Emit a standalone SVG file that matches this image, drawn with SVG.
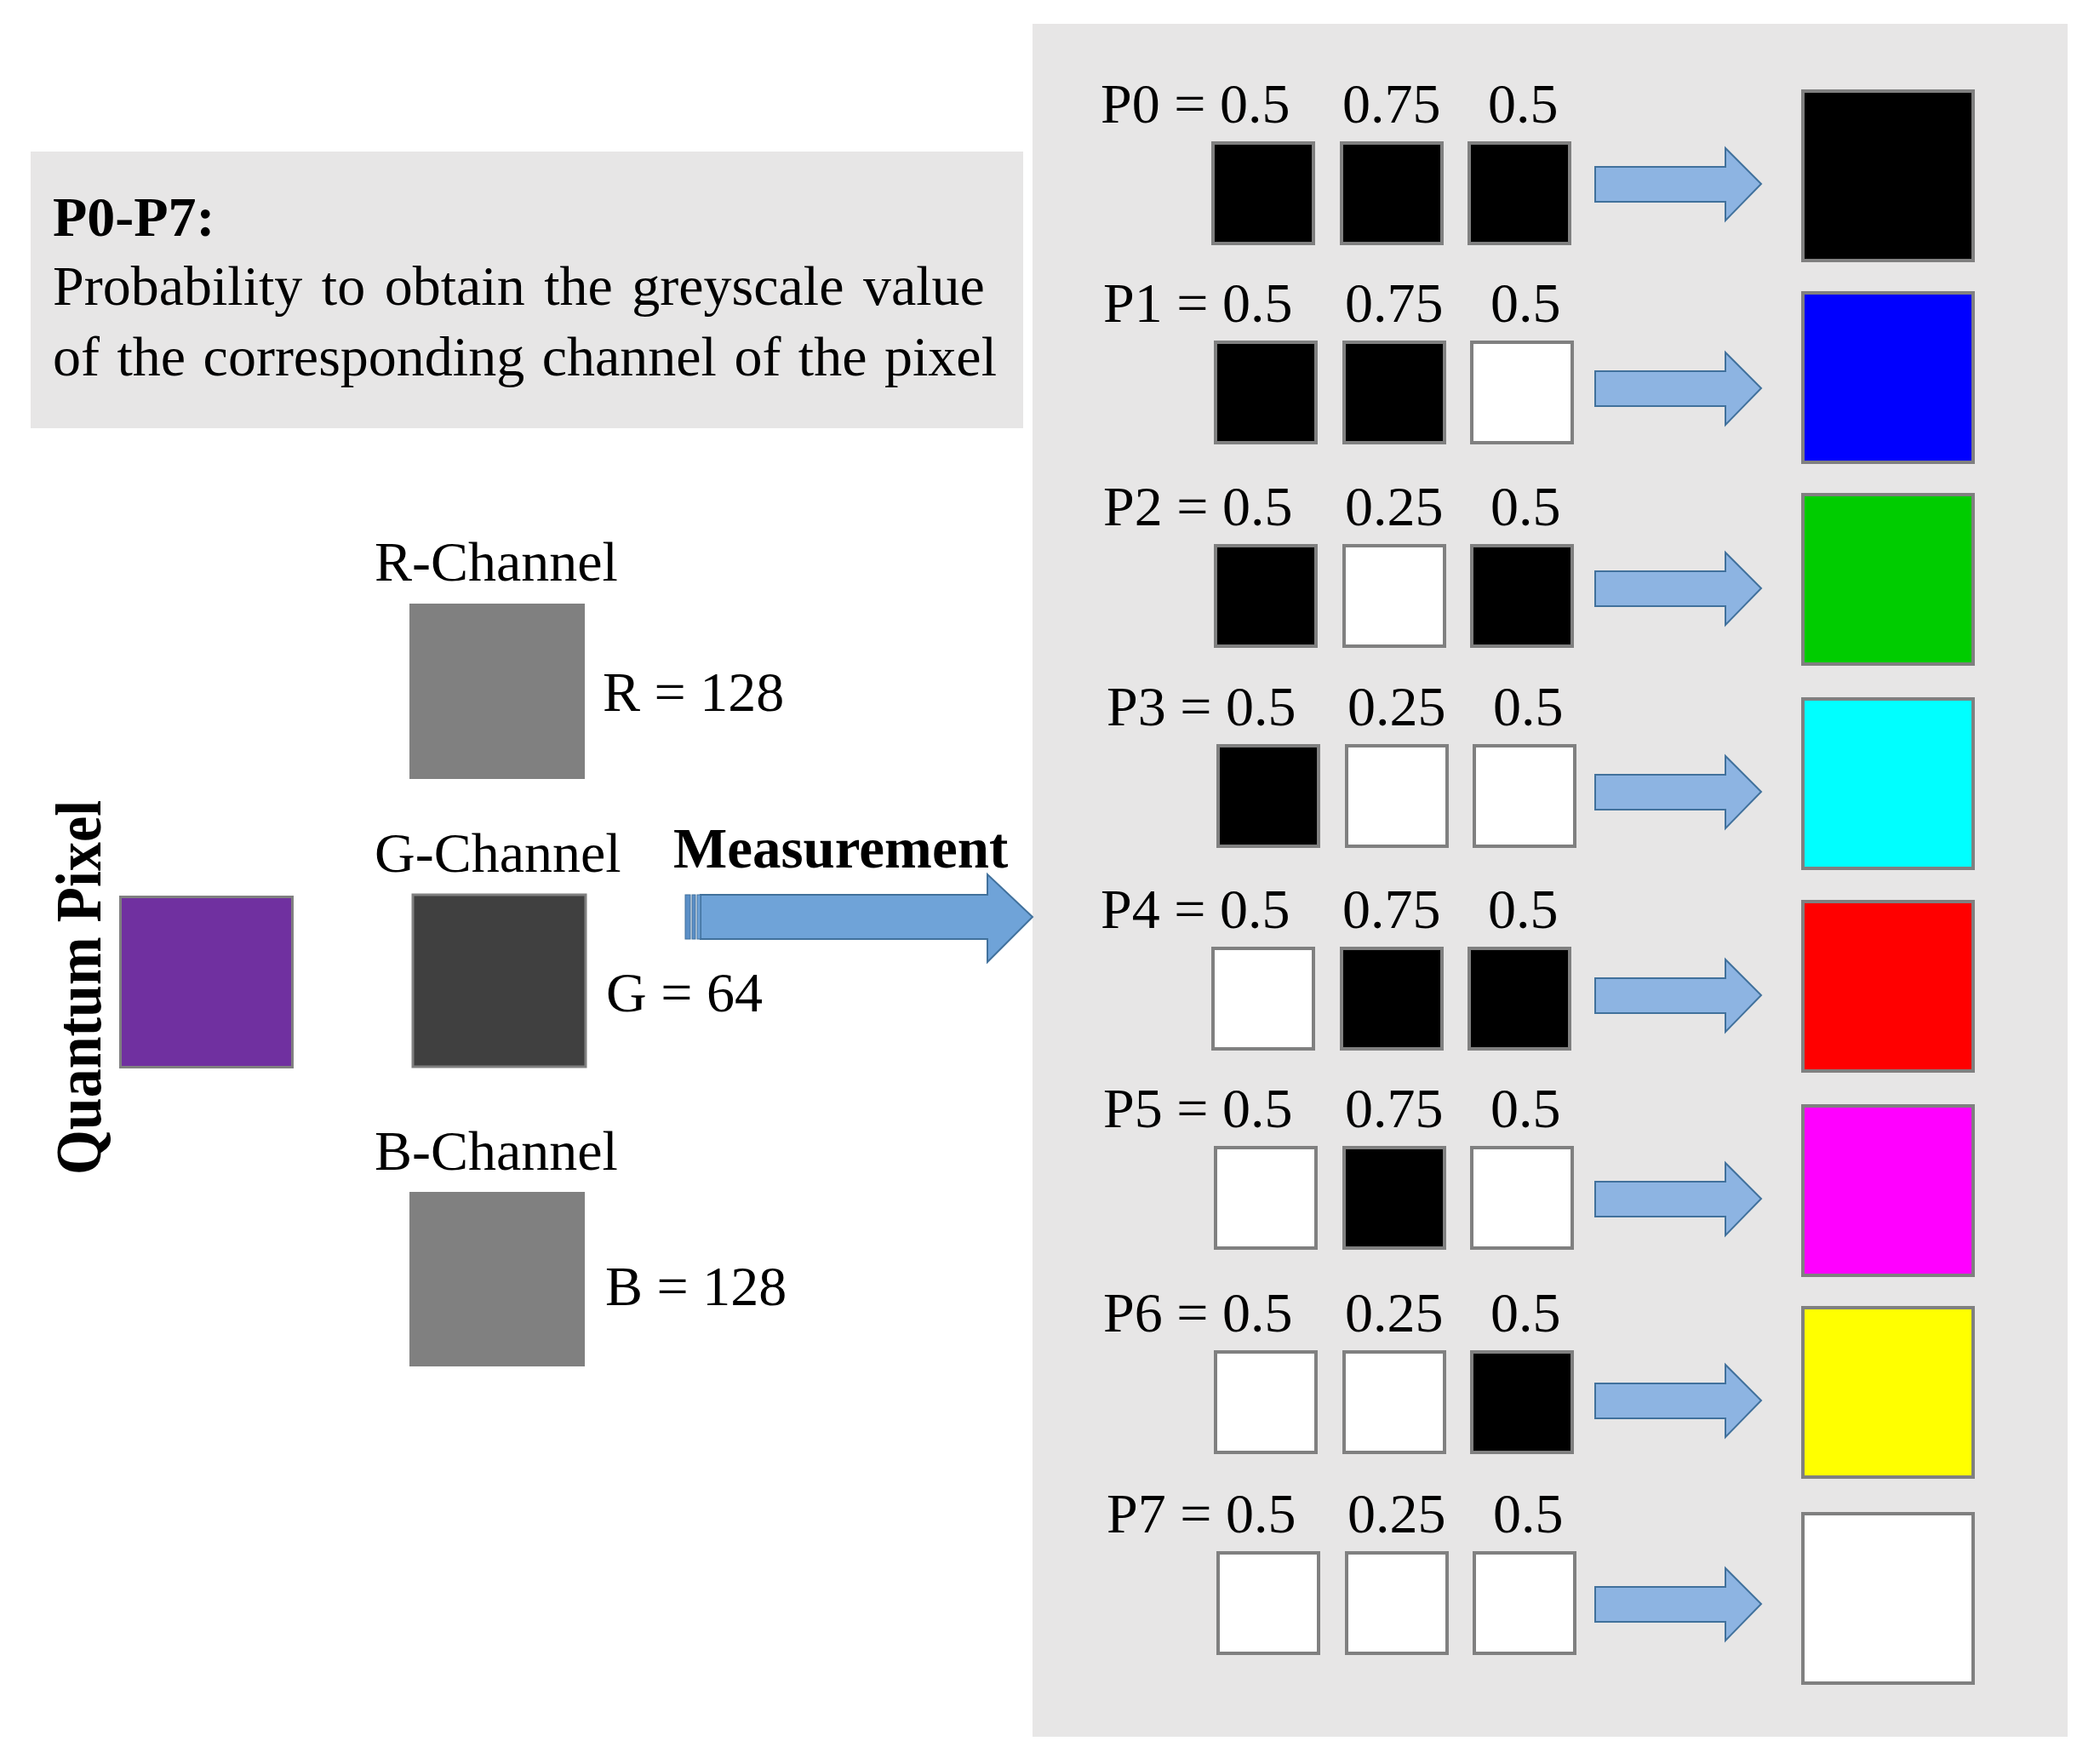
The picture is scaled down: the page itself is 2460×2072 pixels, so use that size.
<svg xmlns="http://www.w3.org/2000/svg" width="2460" height="2072" viewBox="0 0 2460 2072">
<style>
text{font-family:"Liberation Serif","Times New Roman",serif;font-size:66px;fill:#000}
.b{font-weight:bold}
.sq{stroke:#808080;stroke-width:4}
.blk{fill:#000}
.wht{fill:#fff}
.arr{fill:#8db4e2;stroke:#41719c;stroke-width:2}
.big{fill:#6fa3d8;stroke:#41719c;stroke-width:2}
</style>
<defs>
<polygon id="sa" points="0,-20 153,-20 153,-42 195,0 153,43 153,21 0,21"/>
</defs>
<rect width="2460" height="2072" fill="#fff"/>
<g id="panel-right"><rect x="1213" y="28" width="1216" height="2012" fill="#e7e6e6"/></g>
<g id="legend">
<rect x="36" y="178" width="1166" height="325" fill="#e7e6e6"/>
<text class="b" x="62" y="277">P0-P7:</text>
<text x="62" y="358" word-spacing="6">Probability to obtain the greyscale value</text>
<text x="62" y="441" word-spacing="4">of the corresponding channel of the pixel</text>
</g>
<g id="quantum-pixel">
<text class="b" transform="translate(118,1160) rotate(-90) scale(1,1.12)" text-anchor="middle" style="font-size:68px">Quantum Pixel</text>
<rect x="141.5" y="1053.5" width="202" height="200" fill="#7030a0" stroke="#808080" stroke-width="3"/>
</g>
<g id="r-channel">
<text x="440" y="682">R-Channel</text>
<rect x="481" y="709" width="206" height="206" fill="#808080"/>
<text x="708" y="835">R = 128</text>
</g>
<g id="g-channel">
<text x="440" y="1024">G-Channel</text>
<rect x="485" y="1051" width="203" height="202" fill="#404040" stroke="#808080" stroke-width="3"/>
<text x="712" y="1188">G = 64</text>
</g>
<g id="b-channel">
<text x="440" y="1374">B-Channel</text>
<rect x="481" y="1400" width="206" height="205" fill="#808080"/>
<text x="711" y="1533">B = 128</text>
</g>
<g id="measurement-label"><text class="b" x="791" y="1019" style="font-size:67px">Measurement</text></g>
<g id="connectors">
<g id="measurement-arrow">
<polygon class="big" points="823,1051 1160,1051 1160,1027 1213,1077 1160,1130 1160,1103 823,1103"/>
<rect x="805" y="1051" width="6" height="52" fill="#5b8fc7" stroke="#41719c" stroke-width="1"/>
<rect x="813" y="1051" width="4" height="52" fill="#5b8fc7" stroke="#41719c" stroke-width="1"/>
<rect x="819" y="1051" width="4" height="52" fill="#6fa3d8" stroke="#41719c" stroke-width="1"/>
</g>
<use href="#sa" class="arr" x="1874" y="216"/>
<use href="#sa" class="arr" x="1874" y="456"/>
<use href="#sa" class="arr" x="1874" y="691"/>
<use href="#sa" class="arr" x="1874" y="930"/>
<use href="#sa" class="arr" x="1874" y="1169"/>
<use href="#sa" class="arr" x="1874" y="1408"/>
<use href="#sa" class="arr" x="1874" y="1645"/>
<use href="#sa" class="arr" x="1874" y="1884"/>
</g>
<g id="p0">
<text x="1293" y="144">P0 = 0.5</text><text x="1577" y="144">0.75</text><text x="1748" y="144">0.5</text>
<rect class="sq blk" x="1425" y="168" width="118" height="118"/><rect class="sq blk" x="1576" y="168" width="118" height="118"/><rect class="sq blk" x="1726" y="168" width="118" height="118"/>
<rect class="sq" x="2118" y="107" width="200" height="199" fill="#000"/>
</g>
<g id="p1">
<text x="1296" y="378">P1 = 0.5</text><text x="1580" y="378">0.75</text><text x="1751" y="378">0.5</text>
<rect class="sq blk" x="1428" y="402" width="118" height="118"/><rect class="sq blk" x="1579" y="402" width="118" height="118"/><rect class="sq wht" x="1729" y="402" width="118" height="118"/>
<rect class="sq" x="2118" y="344" width="200" height="199" fill="#0000ff"/>
</g>
<g id="p2">
<text x="1296" y="617">P2 = 0.5</text><text x="1580" y="617">0.25</text><text x="1751" y="617">0.5</text>
<rect class="sq blk" x="1428" y="641" width="118" height="118"/><rect class="sq wht" x="1579" y="641" width="118" height="118"/><rect class="sq blk" x="1729" y="641" width="118" height="118"/>
<rect class="sq" x="2118" y="581" width="200" height="199" fill="#00cc00"/>
</g>
<g id="p3">
<text x="1300" y="852">P3 = 0.5</text><text x="1583" y="852">0.25</text><text x="1754" y="852">0.5</text>
<rect class="sq blk" x="1431" y="876" width="118" height="118"/><rect class="sq wht" x="1582" y="876" width="118" height="118"/><rect class="sq wht" x="1732" y="876" width="118" height="118"/>
<rect class="sq" x="2118" y="821" width="200" height="199" fill="#00ffff"/>
</g>
<g id="p4">
<text x="1293" y="1090">P4 = 0.5</text><text x="1577" y="1090">0.75</text><text x="1748" y="1090">0.5</text>
<rect class="sq wht" x="1425" y="1114" width="118" height="118"/><rect class="sq blk" x="1576" y="1114" width="118" height="118"/><rect class="sq blk" x="1726" y="1114" width="118" height="118"/>
<rect class="sq" x="2118" y="1059" width="200" height="199" fill="#ff0000"/>
</g>
<g id="p5">
<text x="1296" y="1324">P5 = 0.5</text><text x="1580" y="1324">0.75</text><text x="1751" y="1324">0.5</text>
<rect class="sq wht" x="1428" y="1348" width="118" height="118"/><rect class="sq blk" x="1579" y="1348" width="118" height="118"/><rect class="sq wht" x="1729" y="1348" width="118" height="118"/>
<rect class="sq" x="2118" y="1299" width="200" height="199" fill="#ff00ff"/>
</g>
<g id="p6">
<text x="1296" y="1564">P6 = 0.5</text><text x="1580" y="1564">0.25</text><text x="1751" y="1564">0.5</text>
<rect class="sq wht" x="1428" y="1588" width="118" height="118"/><rect class="sq wht" x="1579" y="1588" width="118" height="118"/><rect class="sq blk" x="1729" y="1588" width="118" height="118"/>
<rect class="sq" x="2118" y="1536" width="200" height="199" fill="#ffff00"/>
</g>
<g id="p7">
<text x="1300" y="1800">P7 = 0.5</text><text x="1583" y="1800">0.25</text><text x="1754" y="1800">0.5</text>
<rect class="sq wht" x="1431" y="1824" width="118" height="118"/><rect class="sq wht" x="1582" y="1824" width="118" height="118"/><rect class="sq wht" x="1732" y="1824" width="118" height="118"/>
<rect class="sq" x="2118" y="1778" width="200" height="199" fill="#ffffff"/>
</g>
</svg>
